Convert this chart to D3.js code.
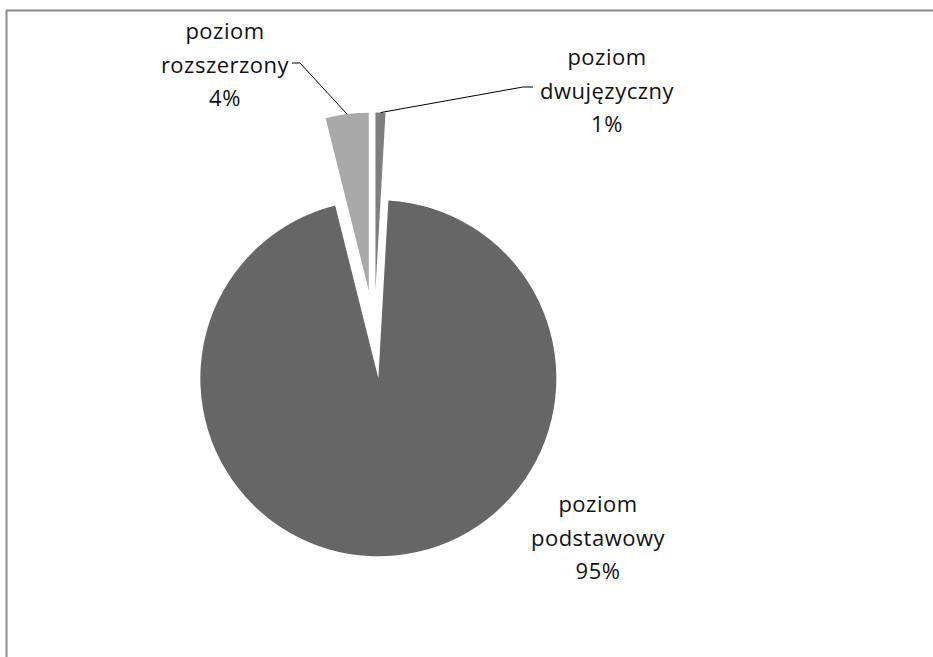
<!DOCTYPE html>
<html>
<head>
<meta charset="utf-8">
<script src="https://cdn.jsdelivr.net/npm/d3@7"></script>
<style>
  html, body { margin: 0; padding: 0; background: #fff; overflow: hidden; }
  svg { display: block; }
  text { font-family: "Open Sans", sans-serif; font-size: 22px; letter-spacing: 0.5px; fill: #111; }
</style>
</head>
<body>
<svg id="chart" width="933" height="657"></svg>
<script>
// ---- data ----
const categories = ["poziom dwujęzyczny", "poziom podstawowy", "poziom rozszerzony"];
const values = [0.9, 95.2, 3.9];
const colors = ["#7f7f7f", "#666666", "#a9a9a9"];
const labelLines = [["poziom", "dwujęzyczny"], ["poziom", "podstawowy"], ["poziom", "rozszerzony"]];

// ---- layout ----
const W = 933, H = 657;
const cx = 374.2, cy = 334.5, R = 178, explode = 44;
const lineH = 33.5;
// label anchor: centre x, first baseline y, leader start (or null)
const labelPos = [
  { x: 607, y: 65, leader: [[533, 87], [523, 87]] },
  { x: 598, y: 512, leader: null },
  { x: 225, y: 39, leader: [[292, 63], [300, 63]] }
];

const svg = d3.select("#chart");

// frame (top and left edges visible)
svg.append("path")
  .attr("d", `M6.5,${H} V10.5 H${W}`)
  .attr("fill", "none").attr("stroke", "#8c8c8c").attr("stroke-width", 2);

const pie = d3.pie().sort(null).value(d => d)
  .startAngle(0).endAngle(2 * Math.PI);
const arcs = pie(values);
const arc = d3.arc().innerRadius(0).outerRadius(R);

const g = svg.append("g").attr("transform", `translate(${cx},${cy})`);

function offset(d, dist) {
  const a = (d.startAngle + d.endAngle) / 2;
  return [dist * Math.sin(a), -dist * Math.cos(a)];
}

g.selectAll("path.slice")
  .data(arcs)
  .join("path")
  .attr("class", "slice")
  .attr("d", arc)
  .attr("fill", (d, i) => colors[i])
  .attr("transform", d => {
    const o = offset(d, explode);
    return `translate(${o[0]},${o[1]})`;
  });

// leader lines
arcs.forEach((d, i) => {
  const lp = labelPos[i];
  if (!lp.leader) return;
  const o = offset(d, explode + R);
  const end = [cx + o[0], cy + o[1]];
  const pts = lp.leader.concat([end]);
  svg.append("path")
    .attr("d", d3.line()(pts))
    .attr("fill", "none")
    .attr("stroke", "#000")
    .attr("stroke-width", 1);
});

// labels
arcs.forEach((d, i) => {
  const lp = labelPos[i];
  const lines = labelLines[i].concat([Math.round(values[i]) + "%"]);
  const t = svg.append("text").attr("text-anchor", "middle");
  lines.forEach((ln, k) => {
    t.append("tspan")
      .attr("x", lp.x)
      .attr("y", lp.y + k * lineH)
      .text(ln);
  });
});
</script>
</body>
</html>
